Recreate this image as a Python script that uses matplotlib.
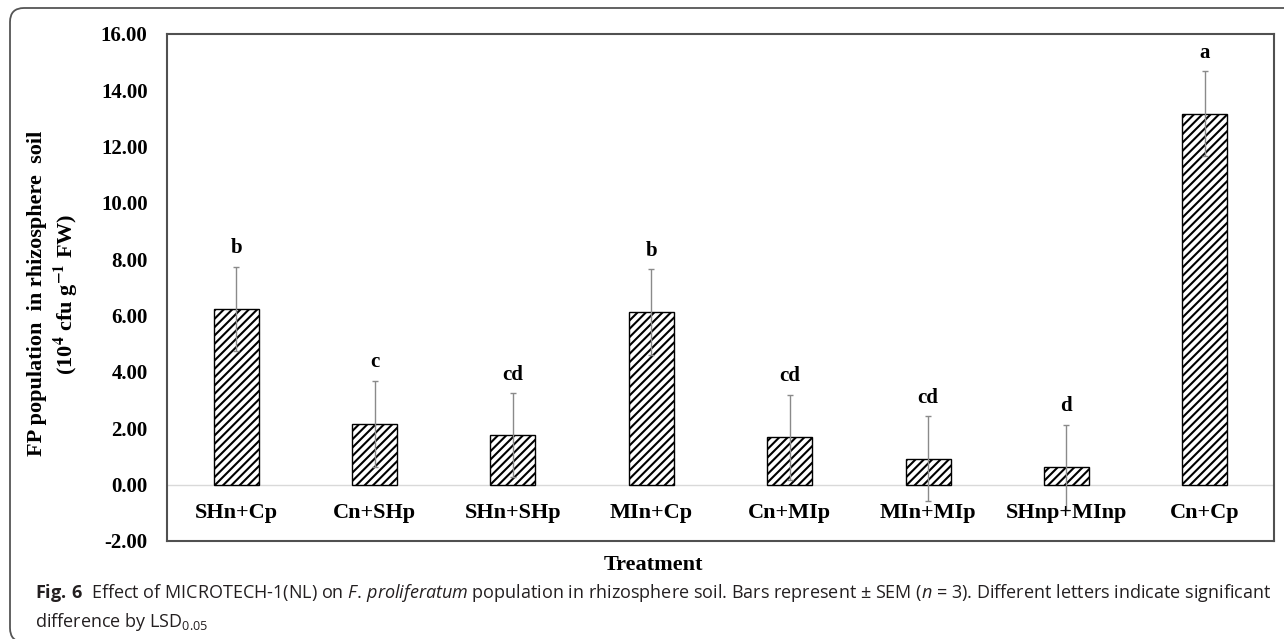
import numpy as np
import matplotlib
matplotlib.use("Agg")
import matplotlib.pyplot as plt
from matplotlib.patches import FancyBboxPatch

treatments = ["SHn+Cp", "Cn+SHp", "SHn+SHp", "MIn+Cp", "Cn+MIp", "MIn+MIp", "SHnp+MInp", "Cn+Cp"]
fp_pop = [6.24, 2.16, 1.75, 6.13, 1.68, 0.92, 0.61, 13.17]
sem = [1.50, 1.53, 1.49, 1.52, 1.52, 1.50, 1.52, 1.51]
letters = ["b", "c", "cd", "b", "cd", "cd", "d", "a"]
yticks = [-2, 0, 2, 4, 6, 8, 10, 12, 14, 16]

serif = "Liberation Serif"
plt.rcParams["hatch.linewidth"] = 1.5
plt.rcParams["mathtext.fontset"] = "custom"
plt.rcParams["mathtext.rm"] = "Open Sans"
plt.rcParams["mathtext.it"] = "Open Sans:italic"
plt.rcParams["mathtext.bf"] = "Open Sans:bold"

fig = plt.figure(figsize=(12.84, 6.39), dpi=100)
ax = fig.add_axes([0.1301, 0.1534, 0.8621, 0.7934])

x = np.arange(len(treatments))
ax.bar(x, fp_pop, width=0.325, color="white", edgecolor="black",
       linewidth=1.0, hatch="////", zorder=2)
ax.errorbar(x, fp_pop, yerr=sem, fmt="none", ecolor="#8a8a8a",
            elinewidth=1.0, capsize=2.5, capthick=1.0, zorder=3)
ax.axhline(0, color="#d9d9d9", linewidth=1.0, zorder=1)

for i in range(len(treatments)):
    ax.annotate(letters[i], (x[i], fp_pop[i] + sem[i]), xytext=(0, 6),
                textcoords="offset points", ha="center", va="bottom",
                fontfamily=serif, fontweight="bold", fontsize=15)
    ax.text(x[i], -1.0, treatments[i], ha="center", va="center",
            fontfamily=serif, fontweight="bold", fontsize=16)

ax.set_xlim(-0.5, len(treatments) - 0.5)
ax.set_ylim(-2, 16)
ax.set_xticks([])
ax.set_yticks(yticks)
ax.set_yticklabels(["%.2f" % v for v in yticks], fontfamily=serif,
                   fontweight="bold", fontsize=15)
ax.tick_params(axis="y", length=0, pad=14)
for s in ax.spines.values():
    s.set_color("#505050")
    s.set_linewidth(1.5)

# y label, two lines
fig.text(37 / 1284, 1 - 293 / 639, "FP population  in rhizosphere  soil",
         rotation=90, ha="center", va="center", fontfamily=serif,
         fontweight="bold", fontsize=16)
fig.text(66 / 1284, 1 - 294 / 639,
         r"(10$^{\mathbf{4}}$ cfu g$^{\mathbf{-1}}$ FW)",
         rotation=90, ha="center", va="center", fontfamily=serif,
         fontweight="bold", fontsize=16, math_fontfamily="stix")

fig.text(653 / 1284, 1 - 565 / 639, "Treatment", ha="center", va="center",
         fontfamily=serif, fontweight="bold", fontsize=16)

# caption
cap1 = (r"$\mathbf{Fig.\,6}$  Effect of MICROTECH-1(NL) on $\mathit{F.\,proliferatum}$"
        r" population in rhizosphere soil. Bars represent ± SEM ($\mathit{n}$ = 3)."
        r" Different letters indicate significant")
cap2 = r"difference by LSD$_{0.05}$"
t1 = fig.text(35 / 1284, 1 - 593 / 639, cap1, ha="left", va="center",
              fontfamily="Open Sans", fontsize=12, color="#231f20")
t2 = fig.text(35 / 1284, 1 - 622 / 639, cap2, ha="left", va="center",
              fontfamily="Open Sans", fontsize=12, color="#231f20")
fig.canvas.draw()
w = t1.get_window_extent().width
fs = 12 * 1235 / w
t1.set_fontsize(fs)
t2.set_fontsize(fs)

# outer rounded frame
frame = FancyBboxPatch((10, -3), 1300, 642 - 8, boxstyle="round,pad=0,rounding_size=14",
                       transform=None, facecolor="none", edgecolor="#555555",
                       linewidth=1.3)
fig.patches.append(frame)

plt.savefig("out.png", dpi=100)
